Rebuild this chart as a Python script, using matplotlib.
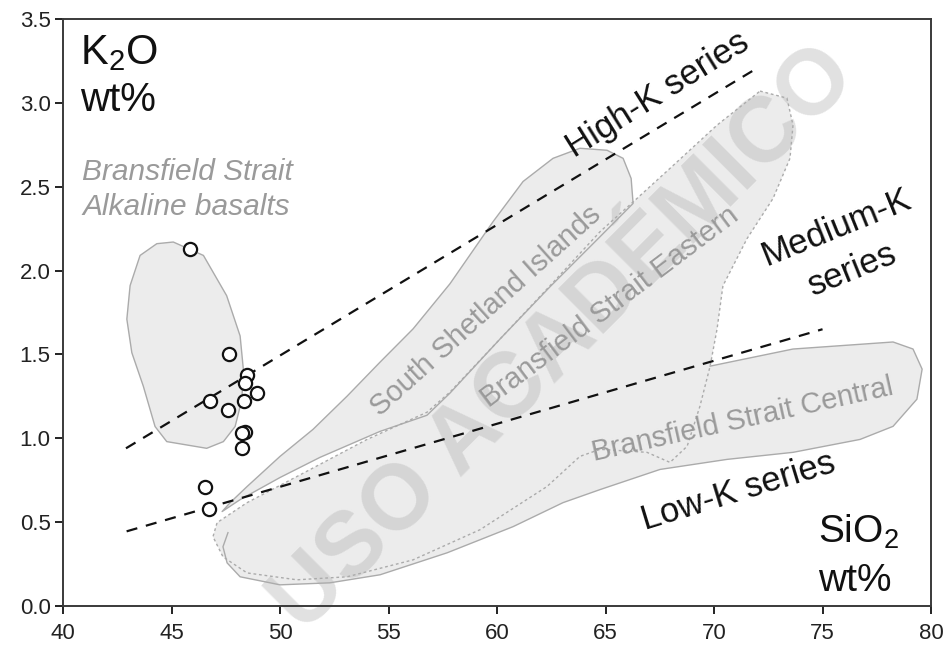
import matplotlib
matplotlib.use('Agg')
import matplotlib.pyplot as plt
from matplotlib.patches import Polygon

plt.rcParams['font.family'] = ['Liberation Sans', 'DejaVu Sans']
plt.rcParams['mathtext.fontset'] = 'custom'
plt.rcParams['mathtext.rm'] = 'Liberation Sans'

# Bransfield Strait alkaline basalt samples (SiO2 vs K2O, wt%)
sio2 = [45.85, 47.66, 48.49, 48.39, 48.92, 48.34, 46.77, 47.59, 48.39, 48.23, 48.23, 46.54, 46.74]
k2o = [2.13, 1.50, 1.38, 1.33, 1.27, 1.22, 1.22, 1.17, 1.04, 1.03, 0.94, 0.71, 0.58]

# series boundaries (end points)
high_k_x = [42.9, 71.9]
high_k_y = [0.94, 3.20]
low_k_x = [42.93, 75.0]
low_k_y = [0.445, 1.65]

# field outlines
alkaline_x = [45.08, 46.47, 47.54, 48.16, 48.31, 48.24, 47.93, 47.39, 46.62, 45.70,
              44.78, 44.24, 43.70, 43.17, 42.94, 43.09, 43.55, 44.32]
alkaline_y = [2.17, 2.09, 1.85, 1.61, 1.41, 1.23, 1.07, 0.98, 0.94, 0.96,
              0.98, 1.07, 1.31, 1.51, 1.71, 1.91, 2.09, 2.16]

shetland_x = [47.33, 47.70, 48.48, 50.00, 51.52, 53.09, 54.61, 56.13, 57.83, 59.82,
              61.20, 62.58, 63.82, 65.07, 65.81, 66.18, 66.27, 64.75, 62.44, 60.14,
              57.83, 56.77, 54.61, 51.84, 50.00, 48.16]
shetland_y = [0.563, 0.616, 0.712, 0.892, 1.053, 1.251, 1.454, 1.652, 1.921, 2.292,
              2.531, 2.669, 2.729, 2.717, 2.669, 2.549, 2.400, 2.202, 1.903, 1.592,
              1.269, 1.137, 1.041, 0.886, 0.766, 0.634]

eastern_x = [72.12, 73.36, 73.64, 73.50, 72.72, 71.52, 70.41, 70.14, 69.82, 69.35,
             68.76, 67.97, 66.91, 64.75, 63.82, 62.30, 59.22, 56.13, 53.09, 50.78,
             48.48, 47.37, 46.91, 47.10, 48.48, 50.78, 54.01, 56.77, 57.83, 60.14,
             62.44, 64.75, 66.45, 67.97, 70.14]
eastern_y = [3.070, 3.028, 2.867, 2.669, 2.430, 2.190, 1.909, 1.652, 1.430, 1.191,
             0.952, 0.856, 0.916, 0.934, 0.892, 0.712, 0.455, 0.275, 0.174, 0.156,
             0.197, 0.293, 0.413, 0.497, 0.616, 0.772, 0.993, 1.155, 1.275, 1.592,
             1.909, 2.232, 2.430, 2.609, 2.867]

# visible part of the central field outline, then the part hidden under the eastern field
central_x = [47.60, 47.37, 47.56, 48.16, 50.00, 52.30, 54.61, 57.70, 60.74, 63.04,
             64.75, 67.51, 70.60, 73.64, 76.73, 78.25, 79.35, 79.59, 79.17, 78.25,
             73.64, 69.82]
central_y = [0.437, 0.353, 0.257, 0.174, 0.126, 0.138, 0.186, 0.317, 0.473, 0.616,
             0.694, 0.814, 0.874, 0.916, 0.993, 1.071, 1.233, 1.412, 1.532, 1.574,
             1.532, 1.430]
central_hidden_x = [64.75, 57.83, 50.92]
central_hidden_y = [1.233, 0.874, 0.574]

x_ticks = [40, 45, 50, 55, 60, 65, 70, 75, 80]
y_ticks = [0.0, 0.5, 1.0, 1.5, 2.0, 2.5, 3.0, 3.5]

fill_col = '#ececec'
edge_col = '#ababab'
label_col = '#9a9a9a'

fig = plt.figure(figsize=(9.48, 6.49), dpi=100)
ax = fig.add_axes([0.0665, 0.0663, 0.9156, 0.9045])
ax.set_xlim(40, 80)
ax.set_ylim(0, 3.5)

# filled fields
for xs, ys in [(alkaline_x, alkaline_y), (shetland_x, shetland_y), (eastern_x, eastern_y),
               (central_x + central_hidden_x, central_y + central_hidden_y)]:
    ax.add_patch(Polygon(list(zip(xs, ys)), closed=True, facecolor=fill_col,
                         edgecolor='none', zorder=1))

# outlines
ax.add_patch(Polygon(list(zip(alkaline_x, alkaline_y)), closed=True, facecolor='none',
                     edgecolor=edge_col, lw=1.0, joinstyle='round', zorder=2))
ax.add_patch(Polygon(list(zip(shetland_x, shetland_y)), closed=True, facecolor='none',
                     edgecolor=edge_col, lw=1.0, joinstyle='round', zorder=2))
ax.add_patch(Polygon(list(zip(eastern_x, eastern_y)), closed=True, facecolor='none',
                     edgecolor=edge_col, lw=1.0, linestyle=(0, (2, 2)), zorder=2))
ax.plot(central_x, central_y, color=edge_col, lw=1.0, solid_joinstyle='round', zorder=2)

# watermark
ax.text(63.1, 1.59, 'USO ACADÉMICO', fontsize=66, fontweight='bold', color='#b0b0b0',
        alpha=0.38, rotation=45, ha='center', va='center', rotation_mode='anchor', zorder=1.5)

# series boundaries
ax.plot(high_k_x, high_k_y, color='#111111', lw=1.6, linestyle=(0, (5, 4)), zorder=3)
ax.plot(low_k_x, low_k_y, color='#111111', lw=1.6, linestyle=(0, (5, 4)), zorder=3)

# samples
ax.plot(sio2, k2o, linestyle='none', marker='o', ms=9.5, mfc='white', mec='#111111',
        mew=1.6, zorder=4)

# axis captions inside the frame
ax.text(40.78, 3.23, 'K$_\\mathregular{2}$O', fontsize=30, color='#111111', va='baseline')
ax.text(40.78, 2.95, 'wt%', fontsize=29, color='#111111', va='baseline')
ax.text(74.8, 0.377, 'SiO$_\\mathregular{2}$', fontsize=28, color='#111111', va='baseline')
ax.text(74.8, 0.09, 'wt%', fontsize=28, color='#111111', va='baseline')

# series labels
ax.text(67.4, 3.05, 'High-K series', fontsize=25, rotation=32, ha='center', va='center',
        rotation_mode='anchor', color='#111111')
ax.text(76.0, 2.13, 'Medium-K\nseries', fontsize=25, rotation=22, ha='center', va='center',
        rotation_mode='anchor', multialignment='center', linespacing=1.45, color='#111111')
ax.text(71.11, 0.682, 'Low-K series', fontsize=25, rotation=17, ha='center', va='center',
        rotation_mode='anchor', color='#111111')

# field labels
ax.text(40.88, 2.54, 'Bransfield Strait', fontsize=21.5, style='italic', color=label_col,
        va='baseline')
ax.text(40.88, 2.33, 'Alkaline basalts', fontsize=21.5, style='italic', color=label_col,
        va='baseline')
ax.text(59.5, 1.76, 'South Shetland Islands', fontsize=21, rotation=42, ha='center',
        va='center', rotation_mode='anchor', color=label_col, zorder=3)
ax.text(65.21, 1.78, 'Bransfield Strait Eastern', fontsize=21, rotation=37, ha='center',
        va='center', rotation_mode='anchor', color=label_col, zorder=3)
ax.text(71.34, 1.11, 'Bransfield Strait Central', fontsize=21, rotation=12.5, ha='center',
        va='center', rotation_mode='anchor', color=label_col, zorder=3)

ax.set_xticks(x_ticks)
ax.set_yticks(y_ticks)
ax.set_yticklabels([f'{v:.1f}' for v in y_ticks])
ax.tick_params(direction='out', length=6, width=1.4, labelsize=16, colors='#222222')
ax.tick_params(axis='x', pad=6)
ax.tick_params(axis='y', pad=3)
for side in ['left', 'bottom', 'top', 'right']:
    ax.spines[side].set_color('#3a3a3a')
    ax.spines[side].set_linewidth(1.4)

fig.savefig('out.png', dpi=100)
